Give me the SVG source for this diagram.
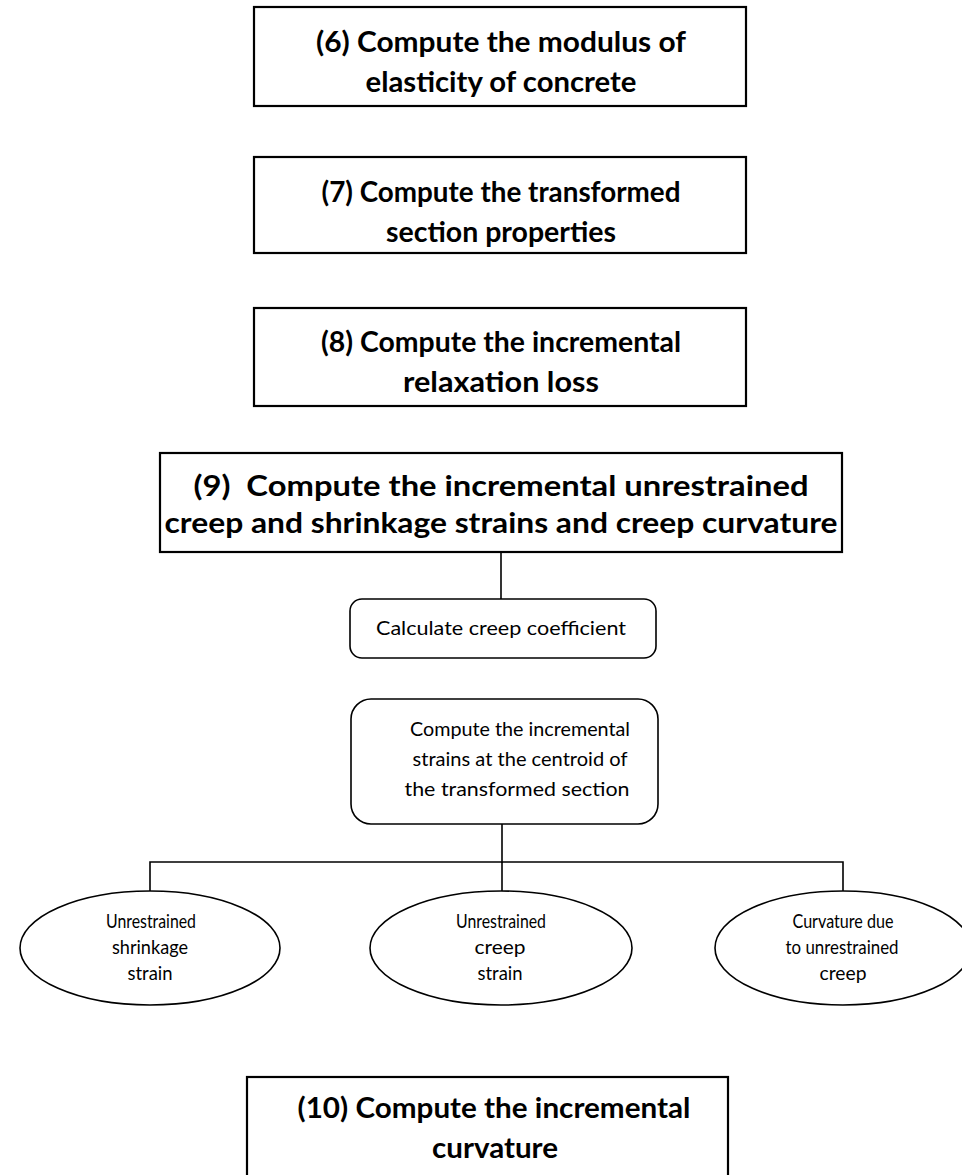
<svg xmlns="http://www.w3.org/2000/svg" width="962" height="1175" viewBox="0 0 962 1175">
  <style>
    .step { fill: #ffffff; stroke: #000000; stroke-width: 2.2; }
    .sub { fill: #ffffff; stroke: #000000; stroke-width: 1.6; }
    .link { fill: none; stroke: #000000; stroke-width: 1.6; }
    .title { font-family: Lato, "Open Sans", sans-serif; font-weight: bold; font-size: 28px; fill: #000000; text-anchor: middle; }
    .label { font-family: Lato, "Open Sans", sans-serif; font-size: 19px; fill: #000000; text-anchor: middle; }
  </style>
  <rect x="0" y="0" width="962" height="1175" fill="#ffffff"/>

  <g id="connectors">
    <line class="link" x1="501" y1="552" x2="501" y2="599"/>
    <line class="link" x1="502" y1="824" x2="502" y2="863"/>
    <polyline class="link" points="150,891 150,862 843,862 843,891"/>
    <line class="link" x1="502" y1="862" x2="502" y2="891"/>
  </g>

  <g id="step6">
    <rect class="step" x="254" y="7" width="492" height="99"/>
    <text class="title" x="501" y="52" textLength="370" lengthAdjust="spacingAndGlyphs">(6) Compute the modulus of</text>
    <text class="title" x="501" y="92" textLength="271" lengthAdjust="spacingAndGlyphs">elasticity of concrete</text>
  </g>

  <g id="step7">
    <rect class="step" x="254" y="157" width="492" height="96"/>
    <text class="title" x="501" y="202" textLength="359" lengthAdjust="spacingAndGlyphs">(7) Compute the transformed</text>
    <text class="title" x="501" y="242" textLength="230" lengthAdjust="spacingAndGlyphs">section properties</text>
  </g>

  <g id="step8">
    <rect class="step" x="254" y="308" width="492" height="98"/>
    <text class="title" x="501" y="352" textLength="360" lengthAdjust="spacingAndGlyphs">(8) Compute the incremental</text>
    <text class="title" x="501" y="392" textLength="196" lengthAdjust="spacingAndGlyphs">relaxation loss</text>
  </g>

  <g id="step9">
    <rect class="step" x="160" y="453" width="682" height="99"/>
    <text class="title" x="501" y="496" textLength="615" lengthAdjust="spacingAndGlyphs" xml:space="preserve">(9)  Compute the incremental unrestrained</text>
    <text class="title" x="501" y="533" textLength="673" lengthAdjust="spacingAndGlyphs">creep and shrinkage strains and creep curvature</text>
  </g>

  <g id="creep-coefficient">
    <rect class="sub" x="350" y="599" width="306" height="59" rx="12" ry="12"/>
    <text class="label" x="501" y="635" textLength="250" lengthAdjust="spacingAndGlyphs">Calculate creep coefficient</text>
  </g>

  <g id="incremental-strains">
    <rect class="sub" x="351" y="699" width="307" height="125" rx="20" ry="20"/>
    <text class="label" x="520" y="736" textLength="220" lengthAdjust="spacingAndGlyphs">Compute the incremental</text>
    <text class="label" x="520" y="766" textLength="215" lengthAdjust="spacingAndGlyphs">strains at the centroid of</text>
    <text class="label" x="517" y="796" textLength="225" lengthAdjust="spacingAndGlyphs">the transformed section</text>
  </g>

  <g id="shrinkage-strain">
    <ellipse class="sub" cx="150" cy="948" rx="130" ry="57"/>
    <text class="label" x="151" y="928" textLength="90" lengthAdjust="spacingAndGlyphs">Unrestrained</text>
    <text class="label" x="150" y="954" textLength="76" lengthAdjust="spacingAndGlyphs">shrinkage</text>
    <text class="label" x="150" y="980" textLength="45" lengthAdjust="spacingAndGlyphs">strain</text>
  </g>

  <g id="creep-strain">
    <ellipse class="sub" cx="501" cy="948" rx="131" ry="57"/>
    <text class="label" x="501" y="928" textLength="90" lengthAdjust="spacingAndGlyphs">Unrestrained</text>
    <text class="label" x="500" y="954" textLength="51" lengthAdjust="spacingAndGlyphs">creep</text>
    <text class="label" x="500" y="980" textLength="45" lengthAdjust="spacingAndGlyphs">strain</text>
  </g>

  <g id="creep-curvature">
    <ellipse class="sub" cx="843" cy="948" rx="128" ry="57"/>
    <text class="label" x="843" y="928" textLength="101" lengthAdjust="spacingAndGlyphs">Curvature due</text>
    <text class="label" x="842" y="954" textLength="113" lengthAdjust="spacingAndGlyphs">to unrestrained</text>
    <text class="label" x="843" y="980" textLength="47" lengthAdjust="spacingAndGlyphs">creep</text>
  </g>

  <g id="step10">
    <rect class="step" x="247" y="1077" width="481" height="110"/>
    <text class="title" x="494" y="1118" textLength="393" lengthAdjust="spacingAndGlyphs">(10) Compute the incremental</text>
    <text class="title" x="495" y="1158" textLength="126" lengthAdjust="spacingAndGlyphs">curvature</text>
  </g>
</svg>
